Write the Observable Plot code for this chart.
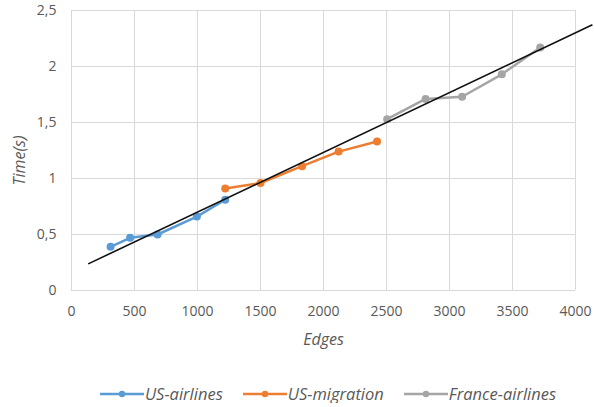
<!DOCTYPE html>
<html>
<head>
<meta charset="utf-8">
<script src="https://cdn.jsdelivr.net/npm/d3@7"></script>
<script src="https://cdn.jsdelivr.net/npm/@observablehq/plot@0.6"></script>
<style>
  body { margin: 0; background: #fff; font-family: "Open Sans", sans-serif; }
  #chart { width: 594px; }
  g[aria-label="x-axis label"] text, g[aria-label="y-axis label"] text { font-style: italic; }
  .legend { display: flex; justify-content: center; gap: 20px; margin-top: 24px; font-style: italic; font-size: 16.5px; color: #595959; padding-left: 62px; line-height: 1; }
  .legend span.item { display: inline-flex; align-items: center; gap: 1px; }
</style>
</head>
<body>
<div id="chart"></div>
<script>
// Series data
const seriesNames = ["US-airlines", "US-migration", "France-airlines"];
const seriesColors = ["#5b9bd5", "#ed7d31", "#a5a5a5"];

const usAirlinesEdges = [310, 465, 683, 995, 1220];
const usAirlinesTime  = [0.39, 0.47, 0.50, 0.66, 0.81];

const usMigrationEdges = [1220, 1500, 1830, 2120, 2425];
const usMigrationTime  = [0.91, 0.96, 1.11, 1.24, 1.33];

const franceAirlinesEdges = [2505, 2810, 3100, 3415, 3720];
const franceAirlinesTime  = [1.53, 1.71, 1.73, 1.93, 2.17];

// Trend line end points
const trendEdges = [137, 4130];
const trendTime  = [0.24, 2.37];

const xTicks = [0, 500, 1000, 1500, 2000, 2500, 3000, 3500, 4000];
const yTicks = [0, 0.5, 1, 1.5, 2, 2.5];

const seriesEdges = [usAirlinesEdges, usMigrationEdges, franceAirlinesEdges];
const seriesTime = [usAirlinesTime, usMigrationTime, franceAirlinesTime];
const rows = [];
seriesNames.forEach((name, s) => {
  seriesEdges[s].forEach((e, i) => rows.push({series: name, edges: e, time: seriesTime[s][i]}));
});
const trend = trendEdges.map((e, i) => ({edges: e, time: trendTime[i]}));

const fmt = d => String(d).replace(".", ",");

const chart = Plot.plot({
  width: 594,
  height: 362,
  marginLeft: 71,
  marginRight: 19,
  marginTop: 10,
  marginBottom: 72,
  style: {fontFamily: "Open Sans, sans-serif", fontSize: "14px", color: "#595959"},
  x: {domain: [0, 4000]},
  y: {domain: [0, 2.5]},
  color: {domain: seriesNames, range: seriesColors},
  marks: [
    Plot.gridX(xTicks, {stroke: "#d9d9d9", strokeOpacity: 1}),
    Plot.gridY(yTicks, {stroke: "#d9d9d9", strokeOpacity: 1}),
    Plot.axisX(xTicks, {tickSize: 0, tickPadding: 16, tickFormat: fmt, label: "Edges", labelAnchor: "center", labelArrow: "none", labelOffset: 54, fontSize: 14}),
    Plot.axisY(yTicks, {tickSize: 0, tickPadding: 15, tickFormat: fmt, label: "Time(s)", labelAnchor: "center", labelArrow: "none", labelOffset: 58, fontSize: 14}),
    Plot.line(rows, {x: "edges", y: "time", z: "series", stroke: "series", strokeWidth: 2.5}),
    Plot.dot(rows, {x: "edges", y: "time", fill: "series", r: 4}),
    Plot.line(trend, {x: "edges", y: "time", stroke: "#111", strokeWidth: 1.6})
  ]
});
chart.querySelectorAll('g[aria-label="x-axis label"] text, g[aria-label="y-axis label"] text').forEach(t => t.setAttribute("font-size", "16"));
const yl = chart.querySelector('g[aria-label="y-axis label"]');
if (yl) {
  const prev = yl.getAttribute("transform") || "";
  yl.setAttribute("transform", prev + " translate(0,10)");
}
document.getElementById("chart").appendChild(chart);

const legend = document.createElement("div");
legend.className = "legend";
seriesNames.forEach((n, i) => {
  const item = document.createElement("span");
  item.className = "item";
  item.innerHTML = `<svg width="44" height="10"><line x1="0" y1="5" x2="44" y2="5" stroke="${seriesColors[i]}" stroke-width="2.5"/><circle cx="22" cy="5" r="3.2" fill="${seriesColors[i]}"/></svg><span>${n}</span>`;
  legend.appendChild(item);
});
document.getElementById("chart").appendChild(legend);
</script>
</body>
</html>
